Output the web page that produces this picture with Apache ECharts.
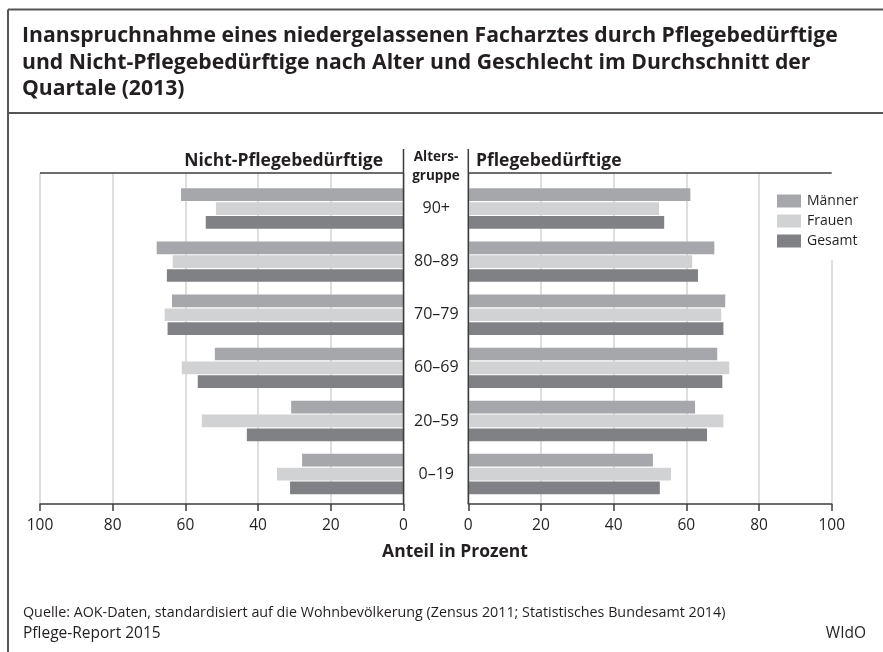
<!DOCTYPE html>
<html>
<head>
<meta charset="utf-8">
<script src="https://cdn.jsdelivr.net/npm/echarts@6/dist/echarts.min.js"></script>
<style>
  html, body { margin: 0; padding: 0; background: #fff; }
  #mainChart { width: 883px; height: 652px; }
</style>
</head>
<body>
<div id="mainChart"></div>
<script>
// Altersgruppen von oben nach unten
const ageGroups = ['90+', '80–89', '70–79', '60–69', '20–59', '0–19'];
const seriesNames = ['Männer', 'Frauen', 'Gesamt'];
const seriesColors = ['#a6a7aa', '#d1d2d4', '#808184'];

// Nicht-Pflegebedürftige (linke Seite), Anteil in Prozent
const nichtMaenner = [61.2, 67.9, 63.7, 51.9, 30.9, 27.9];
const nichtFrauen  = [51.6, 63.5, 65.7, 61.0, 55.5, 34.8];
const nichtGesamt  = [54.4, 65.1, 64.9, 56.6, 43.1, 31.2];

// Pflegebedürftige (rechte Seite), Anteil in Prozent
const pflegeMaenner = [61.1, 67.7, 70.7, 68.5, 62.4, 50.8];
const pflegeFrauen  = [52.5, 61.6, 69.6, 71.8, 70.2, 55.8];
const pflegeGesamt  = [53.9, 63.2, 70.2, 69.9, 65.7, 52.7];

// Achse 0–100, Schritt 20
const axisMin = 0, axisMax = 100, axisStep = 20;

const FONT = "'Open Sans', 'DejaVu Sans', sans-serif";
const DARK = '#231f20';
const LINE = '#3c3c3c';

const L = { left: 40, width: 363.5 };
const R = { left: 468.3, width: 363.4 };
const bgTop = 173, bgHeight = 331;
const barTop = 182, barHeight = 318.6;

function valueAxis(grid, inverse, visible) {
  return {
    type: 'value', gridIndex: grid, inverse: inverse,
    min: axisMin, max: axisMax, interval: axisStep,
    show: visible,
    axisLine: { show: true, lineStyle: { color: LINE, width: 1.5 } },
    axisTick: { show: true, length: 7, lineStyle: { color: LINE, width: 1.5 } },
    axisLabel: { fontFamily: FONT, fontSize: 15.5, color: DARK, margin: 14 },
    splitLine: { show: true, lineStyle: { color: '#d3d3d3', width: 1.5 } }
  };
}

function barSeries(name, data, color, axisIdx) {
  return {
    type: 'bar', name: name, data: data,
    xAxisIndex: axisIdx, yAxisIndex: axisIdx,
    barWidth: 12.7, barGap: '9%',
    itemStyle: { color: color },
    silent: true
  };
}

function text(str, x, y, size, weight, align, vAlign) {
  return {
    type: 'text', silent: true,
    style: {
      text: str, x: x, y: y, fill: DARK,
      fontFamily: FONT, fontSize: size, fontWeight: weight,
      textAlign: align || 'left', textVerticalAlign: vAlign || 'middle'
    }
  };
}

function line(x1, y1, x2, y2, color, width) {
  return {
    type: 'line', silent: true, z: 10,
    shape: { x1: x1, y1: y1, x2: x2, y2: y2 },
    style: { stroke: color, lineWidth: width }
  };
}

const myChart = echarts.init(document.getElementById('mainChart'));
myChart.setOption({
  animation: false,
  backgroundColor: '#fff',
  title: {
    text: 'Inanspruchnahme eines niedergelassenen Facharztes durch Pflegebedürftige\nund Nicht-Pflegebedürftige nach Alter und Geschlecht im Durchschnitt der\nQuartale (2013)',
    left: 22, top: 23, padding: 0,
    textStyle: { fontFamily: FONT, fontSize: 21.2, fontWeight: 'bold', color: DARK, lineHeight: 26.5 }
  },
  legend: {
    orient: 'vertical', left: 767, top: bgTop,
    padding: [21, 14, 12, 10],
    backgroundColor: '#fff',
    itemWidth: 24, itemHeight: 13, itemGap: 6,
    icon: 'rect', selectedMode: false,
    data: seriesNames,
    textStyle: { fontFamily: FONT, fontSize: 14, color: DARK, padding: [0, 0, 0, 1] }
  },
  grid: [
    { left: L.left, width: L.width, top: bgTop, height: bgHeight },
    { left: L.left, width: L.width, top: barTop, height: barHeight },
    { left: R.left, width: R.width, top: bgTop, height: bgHeight },
    { left: R.left, width: R.width, top: barTop, height: barHeight }
  ],
  xAxis: [
    valueAxis(0, true, true),
    valueAxis(1, true, false),
    valueAxis(2, false, true),
    valueAxis(3, false, false)
  ],
  yAxis: [
    { type: 'value', gridIndex: 0, show: false },
    { type: 'category', gridIndex: 1, data: ageGroups, inverse: true, show: false },
    { type: 'value', gridIndex: 2, show: false },
    {
      type: 'category', gridIndex: 3, data: ageGroups, inverse: true,
      axisLine: { show: false }, axisTick: { show: false },
      axisLabel: { align: 'center', margin: 32, fontFamily: FONT, fontSize: 16, color: DARK }
    }
  ],
  series: [
    barSeries(seriesNames[0], nichtMaenner, seriesColors[0], 1),
    barSeries(seriesNames[1], nichtFrauen, seriesColors[1], 1),
    barSeries(seriesNames[2], nichtGesamt, seriesColors[2], 1),
    barSeries(seriesNames[0], pflegeMaenner, seriesColors[0], 3),
    barSeries(seriesNames[1], pflegeFrauen, seriesColors[1], 3),
    barSeries(seriesNames[2], pflegeGesamt, seriesColors[2], 3)
  ],
  graphic: [
    // Rahmen
    line(8, 9.5, 883, 9.5, '#555', 2),
    line(8, 9.5, 8, 652, '#555', 2),
    line(8, 113, 883, 113, '#555', 2),
    // Kopfzeile der Grafik
    line(L.left, bgTop, L.left + L.width, bgTop, LINE, 1.5),
    line(R.left, bgTop, R.left + R.width, bgTop, LINE, 1.5),
    line(L.left + L.width, 149, L.left + L.width, bgTop + bgHeight, LINE, 1.5),
    line(R.left, 149, R.left, bgTop + bgHeight, LINE, 1.5),
    text('Nicht-Pflegebedürftige', 383, 161, 17.5, 'bold', 'right'),
    text('Pflegebedürftige', 476, 161, 17.5, 'bold', 'left'),
    text('Alters-', 436, 157, 13.5, 'bold', 'center'),
    text('gruppe', 436, 176, 13.5, 'bold', 'center'),
    text('Anteil in Prozent', 455, 552, 17.5, 'bold', 'center'),
    // Fußzeile
    text('Quelle: AOK-Daten, standardisiert auf die Wohnbevölkerung (Zensus 2011; Statistisches Bundesamt 2014)', 23, 613, 14.3, 'normal', 'left'),
    text('Pflege-Report 2015', 23, 634, 15.5, 'normal', 'left'),
    text('WIdO', 866, 634, 15.5, 'normal', 'right')
  ]
});
</script>
</body>
</html>
